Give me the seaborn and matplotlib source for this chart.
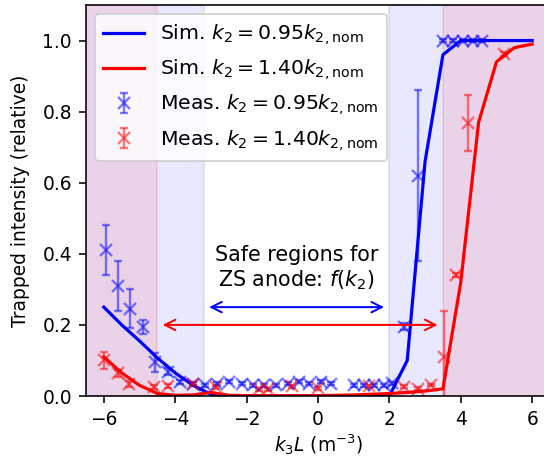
import numpy as np
import pandas as pd
import matplotlib
matplotlib.use("Agg")
import matplotlib.pyplot as plt
import seaborn as sns

# ---- data ----
sim_x = [-6.0, -5.5, -5.0, -4.5, -4.0, -3.5, -3.0, -2.5, -2.0, -1.5, -1.0, -0.5,
         0.0, 0.5, 1.0, 1.5, 2.0, 2.5, 3.0, 3.5, 4.0, 4.5, 5.0, 5.5, 6.0]
sim_blue = [0.25, 0.20, 0.155, 0.107, 0.065, 0.03, 0.005, 0.0, 0.0, 0.0, 0.0, 0.0,
            0.0, 0.0, 0.0, 0.0, 0.0, 0.10, 0.66, 0.96, 1.0, 1.0, 1.0, 1.0, 1.0]
sim_red = [0.11, 0.065, 0.03, 0.007, 0.002, 0.003, 0.01, 0.002, 0.001, 0.001, 0.001, 0.001,
           0.001, 0.002, 0.003, 0.005, 0.007, 0.01, 0.014, 0.02, 0.32, 0.77, 0.94, 0.98, 0.99]

meas_blue_x = [-5.95, -5.6, -5.27, -4.9, -4.56, -4.21, -3.86, -3.51, -3.16, -2.82,
               -2.48, -2.12, -1.83, -1.5, -1.18, -0.85, -0.52, -0.24, 0.08, 0.36,
               1.02, 1.3, 1.58, 1.86, 2.06, 2.42, 2.79, 3.5, 3.77, 4.05, 4.33, 4.6]
meas_blue_y = [0.41, 0.31, 0.245, 0.195, 0.095, 0.068, 0.04, 0.035, 0.03, 0.035,
               0.04, 0.035, 0.03, 0.03, 0.03, 0.035, 0.04, 0.035, 0.04, 0.035,
               0.03, 0.03, 0.03, 0.03, 0.036, 0.195, 0.62, 1.0, 1.0, 1.0, 1.0, 1.0]
meas_blue_err = [0.07, 0.07, 0.055, 0.02, 0.027, 0.01, 0.006, 0.004, 0.004, 0.004,
                 0.004, 0.004, 0.004, 0.004, 0.004, 0.004, 0.004, 0.004, 0.004, 0.004,
                 0.004, 0.004, 0.004, 0.004, 0.004, 0.01, 0.24, 0.004, 0.004, 0.004, 0.004, 0.004]

meas_red_x = [-5.99, -5.61, -5.29, -4.59, -4.21, -3.51, -2.85, -1.64, -1.39, -0.72,
              0.0, 1.44, 2.42, 2.79, 3.17, 3.52, 3.87, 4.19, 5.22]
meas_red_y = [0.10, 0.064, 0.034, 0.025, 0.028, 0.035, 0.025, 0.019, 0.019, 0.027,
              0.022, 0.027, 0.026, 0.02, 0.031, 0.109, 0.34, 0.768, 0.963]
meas_red_err = [0.025, 0.01, 0.008, 0.005, 0.005, 0.004, 0.004, 0.004, 0.004, 0.004,
                0.004, 0.004, 0.004, 0.004, 0.004, 0.13, 0.006, 0.08, 0.006]

lab_sim_b = r"Sim. $k_2 = 0.95k_{2,\mathrm{nom}}$"
lab_sim_r = r"Sim. $k_2 = 1.40k_{2,\mathrm{nom}}$"
lab_meas_b = r"Meas. $k_2 = 0.95k_{2,\mathrm{nom}}$"
lab_meas_r = r"Meas. $k_2 = 1.40k_{2,\mathrm{nom}}$"

safe_blue = (-3.2, 2.0)
safe_red = (-4.5, 3.5)

# ---- figure ----
plt.rcParams['font.size'] = 9.3
fig = plt.figure(figsize=(544 / 144, 464 / 144), dpi=144)
ax = fig.add_axes([86 / 544, 68 / 464, 464 / 544, 391 / 464])

# unsafe regions shading
ax.axvspan(-7, safe_blue[0], color='blue', alpha=0.09, zorder=0)
ax.axvspan(safe_blue[1], 7, color='blue', alpha=0.09, zorder=0)
ax.axvspan(-7, safe_red[0], color='red', alpha=0.09, zorder=0)
ax.axvspan(safe_red[1], 7, color='red', alpha=0.09, zorder=0)

df_b = pd.DataFrame({'x': sim_x, 'y': sim_blue})
df_r = pd.DataFrame({'x': sim_x, 'y': sim_red})
sns.lineplot(data=df_b, x='x', y='y', color='blue', lw=1.6, label=lab_sim_b, ax=ax)
sns.lineplot(data=df_r, x='x', y='y', color='red', lw=1.6, label=lab_sim_r, ax=ax)

ax.errorbar(meas_blue_x, meas_blue_y, yerr=meas_blue_err, fmt='x', color='blue',
            alpha=0.5, ms=6, mew=1.2, capsize=2, elinewidth=1.2, label=lab_meas_b)
ax.errorbar(meas_red_x, meas_red_y, yerr=meas_red_err, fmt='x', color='red',
            alpha=0.5, ms=6, mew=1.2, capsize=2, elinewidth=1.2, label=lab_meas_r)

# arrows
ax.annotate('', xy=(safe_blue[0] + 0.15, 0.25), xytext=(safe_blue[1] - 0.15, 0.25),
            arrowprops=dict(arrowstyle='<->', color='blue', lw=1, shrinkA=0, shrinkB=0,
                            mutation_scale=13))
ax.annotate('', xy=(safe_red[0] + 0.15, 0.2), xytext=(safe_red[1] - 0.15, 0.2),
            arrowprops=dict(arrowstyle='<->', color='red', lw=1, shrinkA=0, shrinkB=0,
                            mutation_scale=13))
ax.text(-0.6, 0.358, "Safe regions for\nZS anode: $f(k_2)$", ha='center', va='center',
        fontsize=10.3)

ax.set_xlim(-6.5, 6.5)
ax.set_ylim(0, 1.1)
ax.set_xticks([-6, -4, -2, 0, 2, 4, 6])
ax.set_yticks([0.0, 0.2, 0.4, 0.6, 0.8, 1.0])
ax.set_xlabel(r"$k_3L$ (m$^{-3}$)", labelpad=1.5)
ax.set_ylabel("Trapped intensity (relative)", labelpad=6)
ax.legend(loc='upper left', fontsize=10.2, borderaxespad=0.45)

fig.savefig("out.png", dpi=144)
